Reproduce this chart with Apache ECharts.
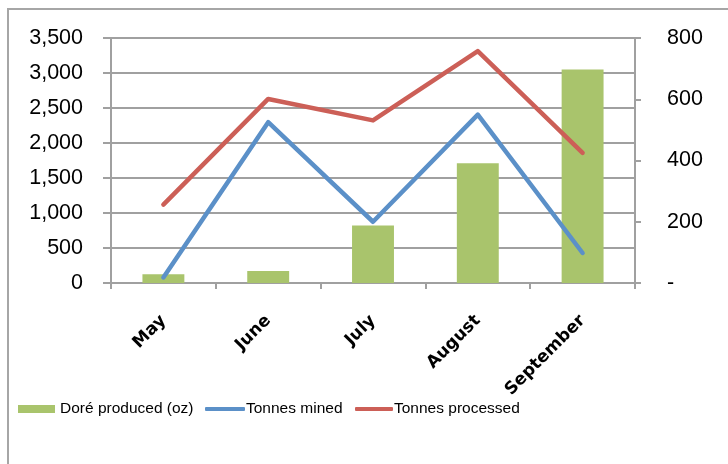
<!DOCTYPE html>
<html>
<head>
<meta charset="utf-8">
<script src="https://cdn.jsdelivr.net/npm/echarts@6/dist/echarts.min.js"></script>
<style>
  html, body { margin: 0; padding: 0; background: #fff; }
  #chart { width: 728px; height: 464px; }
</style>
</head>
<body>
<div id="chart"></div>
<script>
// values
const categories = ['May', 'June', 'July', 'August', 'September'];
const doreOz = [125, 170, 820, 1710, 3050];
const tonnesMined = [18, 525, 200, 550, 98];
const tonnesProcessed = [256, 601, 531, 757, 425];
const leftTicks = [0, 500, 1000, 1500, 2000, 2500, 3000, 3500];
const rightTicks = [0, 200, 400, 600, 800];

const gridColor = '#a0a0a0';
const labelFont = "'Liberation Sans', Arial, sans-serif";

const chart = echarts.init(document.getElementById('chart'));

const legendBase = {
  orient: 'horizontal',
  top: 401,
  itemGap: 0,
  padding: 0,
  textStyle: { fontFamily: labelFont, fontSize: 15.5, color: '#000' }
};

const option = {
  animation: false,
  backgroundColor: '#fff',
  graphic: [{
    type: 'rect',
    shape: { x: 8, y: 9, width: 760, height: 480 },
    style: { fill: 'none', stroke: '#a6a6a6', lineWidth: 2 },
    silent: true
  }],
  grid: { left: 111, right: 93, top: 38, height: 245 },
  legend: [
    Object.assign({}, legendBase, {
      left: 18, itemWidth: 37, itemHeight: 8,
      data: [{ name: 'Doré produced (oz)', icon: 'rect' }]
    }),
    Object.assign({}, legendBase, {
      left: 205, itemWidth: 40, itemHeight: 4,
      textStyle: Object.assign({}, legendBase.textStyle, { padding: [0, 0, 0, -4] }),
      data: [{ name: 'Tonnes mined', icon: 'roundRect' }]
    }),
    Object.assign({}, legendBase, {
      left: 355, itemWidth: 38, itemHeight: 4,
      textStyle: Object.assign({}, legendBase.textStyle, { padding: [0, 0, 0, -4] }),
      data: [{ name: 'Tonnes processed', icon: 'roundRect' }]
    })
  ],
  xAxis: {
    type: 'category',
    data: categories,
    axisLine: { lineStyle: { color: gridColor, width: 2 } },
    axisTick: { show: true, length: 6, lineStyle: { color: gridColor, width: 2 } },
    axisLabel: {
      rotate: 45,
      margin: 35,
      color: '#000',
      fontFamily: "'DejaVu Sans', sans-serif",
      fontWeight: 'bold',
      fontSize: 17
    }
  },
  yAxis: [
    {
      type: 'value',
      min: leftTicks[0],
      max: leftTicks[leftTicks.length - 1],
      interval: leftTicks[1] - leftTicks[0],
      axisLine: { show: true, lineStyle: { color: gridColor, width: 2 } },
      axisTick: { show: true, length: 8, lineStyle: { color: gridColor, width: 2 } },
      splitLine: { lineStyle: { color: gridColor, width: 2 } },
      axisLabel: {
        margin: 28,
        padding: [6, 0, 0, 0],
        color: '#000',
        fontFamily: labelFont,
        fontSize: 21.5,
        formatter: v => v.toLocaleString('en-US')
      }
    },
    {
      type: 'value',
      position: 'right',
      min: rightTicks[0],
      max: rightTicks[rightTicks.length - 1],
      interval: rightTicks[1] - rightTicks[0],
      axisLine: { show: true, lineStyle: { color: gridColor, width: 2 } },
      axisTick: { show: true, length: 6, lineStyle: { color: gridColor, width: 2 } },
      splitLine: { show: false },
      axisLabel: {
        margin: 32,
        padding: [6, 0, 0, 0],
        color: '#000',
        fontFamily: labelFont,
        fontSize: 21.5,
        formatter: v => (v === 0 ? '-' : String(v))
      }
    }
  ],
  series: [
    {
      name: 'Doré produced (oz)',
      type: 'bar',
      barWidth: '40%',
      itemStyle: { color: '#a9c46c' },
      data: doreOz
    },
    {
      name: 'Tonnes mined',
      type: 'line',
      yAxisIndex: 1,
      showSymbol: false,
      symbol: 'none',
      lineStyle: { color: '#5b90c8', width: 4.5, cap: 'round', join: 'round' },
      itemStyle: { color: '#5b90c8' },
      data: tonnesMined
    },
    {
      name: 'Tonnes processed',
      type: 'line',
      yAxisIndex: 1,
      showSymbol: false,
      symbol: 'none',
      lineStyle: { color: '#cc5f57', width: 4.5, cap: 'round', join: 'round' },
      itemStyle: { color: '#cc5f57' },
      data: tonnesProcessed
    }
  ]
};

chart.setOption(option);
</script>
</body>
</html>
